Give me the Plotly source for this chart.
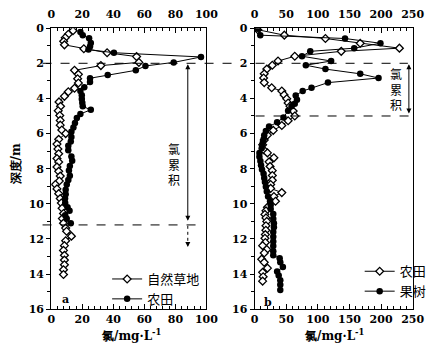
import plotly.graph_objects as go

# ---- panel a: natural grassland vs farmland ----
grass_depth = [0.15, 0.35, 0.55, 0.75, 0.95, 1.17, 1.4, 1.62, 1.95, 2.13, 2.4, 2.63, 2.88, 3.12,
               3.42, 3.62, 3.88, 4.2, 4.45, 4.7, 4.97, 5.25, 5.52, 5.8, 6.0, 6.33, 6.6, 6.88,
               7.15, 7.42, 7.62, 7.9, 8.15, 8.42, 8.7, 8.9, 9.15, 9.42, 9.7, 9.95, 10.25, 10.55,
               10.84, 11.1, 11.38, 11.56, 11.84, 12.1, 12.38, 12.65, 12.93, 13.2, 13.47, 13.75, 14.02]
grass_cl = [14, 11, 9, 8, 8.5, 21, 36, 55, 56.5, 32, 15, 17.5, 17, 17.5,
            15, 11, 8.5, 5, 6, 4.5, 5.5, 5.8, 5.8, 6.8, 9.3, 4.8, 3.7, 4.3,
            4.8, 3.7, 4.8, 3.7, 4.8, 5.8, 5.2, 2.7, 3.7, 4.8, 5.8, 6.5, 7, 7.9,
            7.2, 7.9, 9.3, 9.9, 13, 9.3, 8.5, 7.9, 8.5, 8.5, 8.5, 7.9, 7.9]

farm_a_depth = [0.22, 0.4, 0.58, 0.85, 1.04, 1.22, 1.4, 1.64, 1.95, 2.15, 2.4, 2.67, 2.85, 3.07,
                3.36, 3.58, 3.82, 4.04, 4.25, 4.45, 4.65, 4.88, 5.12, 5.4, 5.65, 5.9, 6.2, 6.45,
                6.7, 6.95, 7.3, 7.55, 7.85, 8.1, 8.4, 8.65, 8.9, 9.2, 9.45, 9.7, 9.95, 10.2,
                10.4, 10.65, 10.85, 11.1]
farm_a_cl = [18.8, 20.3, 24.4, 25.5, 25, 24, 40.4, 96.5, 78.9, 60.7, 54.5, 36.4, 25, 25,
             21.3, 18.8, 19.7, 19.7, 20, 20.3, 25.5, 18.8, 16.5, 15.3, 14.3, 13, 13, 12.6,
             11, 11, 13, 13.5, 12, 11.4, 12, 11, 10, 9.3, 9.3, 8.9, 9, 10.5,
             11.8, 9, 10, 12.6]

# ---- panel b: farmland vs orchard ----
farm_b_depth = [0.09, 0.4, 0.59, 0.86, 1.14, 1.32, 1.6, 1.87, 2.11, 2.33, 2.6, 2.84, 3.1, 3.39,
                3.58, 3.8, 4.02, 4.26, 4.44, 4.72, 5.0, 5.27, 5.54, 5.82, 6.09, 6.37, 6.64, 6.92,
                7.1, 7.38, 7.61, 7.87, 8.11, 8.39, 8.66, 8.9, 9.12, 9.36, 9.58, 9.85, 10.2, 10.4,
                10.6, 10.8, 11.0, 11.25, 11.5, 11.75, 11.96, 12.2, 12.38, 12.6, 12.8, 13.15, 13.33,
                13.66, 13.9, 14.15, 14.4]
farm_b_cl = [5, 47, 112, 167, 229, 137, 63.5, 37, 28, 19.3, 15.2, 14.2, 15.2, 27,
             43, 46.7, 50.8, 53, 56, 61, 63.5, 53, 43, 29.5, 20.3, 15.2, 12.7, 14.2,
             20.3, 30.5, 22.9, 24.4, 28, 28, 28, 25.4, 25.4, 43, 30.5, 33, 20.3, 18,
             16.3, 18, 19.3, 18, 17.8, 17, 16.3, 17, 12.7, 19.3, 15.2, 11.2, 15.2,
             20.3, 12.7, 13.5, 12.7]

orchard_depth = [0.04, 0.4, 0.59, 0.86, 1.14, 1.32, 1.6, 1.87, 2.11, 2.33, 2.6, 2.84, 3.1, 3.39,
                 3.58, 3.83, 4.07, 4.3, 4.45, 4.7, 5.08, 5.36, 5.6, 5.85, 6.09, 6.33, 6.55, 6.83,
                 7.1, 7.32, 7.56, 7.8, 8.05, 8.29, 8.53, 8.75, 9.03, 9.3, 9.58, 9.85, 10.07, 10.3,
                 10.58, 10.85, 11.1, 11.33, 11.6, 11.87, 12.14, 12.4, 12.7, 12.93, 13.1, 13.33, 13.6,
                 13.85, 14.08, 14.35, 14.6, 14.9]
orchard_cl = [5, 9, 143, 199, 157.5, 88, 75, 121, 81, 112, 167, 196, 116, 90,
              76, 65, 67, 63.5, 58.4, 53, 45.7, 35.6, 22.9, 17.8, 15.2, 14.2, 12.7, 11.2,
              7.6, 7.6, 9.1, 10.2, 11.7, 14.2, 15.2, 16.3, 17.8, 19.3, 21.3, 24.4, 25.4, 25.4,
              29.5, 29.5, 30.5, 30.5, 29.5, 29.5, 29.5, 29.5, 29.5, 29.5, 39.6, 40.6, 44.7,
              35.6, 38.1, 40.6, 40.6, 40.6]

W, H = 443, 349


def px(x):
    return x / W


def py(y):
    return 1 - y / H


SERIF = "DejaVu Serif"
CJK = "Noto Sans CJK SC"
tickfont = dict(family=SERIF, size=11, color="black", weight="bold")

diamond = dict(symbol="diamond", size=6, color="white", line=dict(color="black", width=1.3))
circle = dict(symbol="circle", size=6.5, color="black")
ln = dict(color="black", width=1)

fig = go.Figure()
fig.add_trace(go.Scatter(x=grass_cl, y=grass_depth, mode="lines+markers", name="自然草地",
                         marker=diamond, line=ln, xaxis="x", yaxis="y", legend="legend"))
fig.add_trace(go.Scatter(x=farm_a_cl, y=farm_a_depth, mode="lines+markers", name="农田",
                         marker=circle, line=ln, xaxis="x", yaxis="y", legend="legend"))
fig.add_trace(go.Scatter(x=farm_b_cl, y=farm_b_depth, mode="lines+markers", name="农田",
                         marker=diamond, line=ln, xaxis="x2", yaxis="y2", legend="legend2"))
fig.add_trace(go.Scatter(x=orchard_cl, y=orchard_depth, mode="lines+markers", name="果树",
                         marker=circle, line=ln, xaxis="x2", yaxis="y2", legend="legend2"))
# carrier traces so the mirrored top axes (with their own tick labels) are rendered
fig.add_trace(go.Scatter(x=farm_a_cl, y=farm_a_depth, mode="none", showlegend=False,
                         hoverinfo="skip", xaxis="x3", yaxis="y"))
fig.add_trace(go.Scatter(x=orchard_cl, y=orchard_depth, mode="none", showlegend=False,
                         hoverinfo="skip", xaxis="x4", yaxis="y2"))

ydom = [py(315), py(23)]


def xax(dom, rng, dtick, minor, anchor, side="bottom", overlay=None):
    d = dict(domain=dom, range=rng, anchor=anchor, side=side, dtick=dtick,
             ticks="inside", ticklen=5, tickcolor="black",
             minor=dict(dtick=minor, ticks="inside", ticklen=3, tickcolor="black", showgrid=False),
             showline=True, linecolor="black", linewidth=1, mirror=True,
             showgrid=False, zeroline=False, tickfont=tickfont)
    if overlay:
        d["overlaying"] = overlay
        d["ticklabelstandoff"] = 5
    return d


def yax(anchor):
    return dict(domain=ydom, range=[16, 0], anchor=anchor, dtick=2,
                ticks="outside", ticklen=4, tickcolor="black",
                minor=dict(dtick=1, ticks="outside", ticklen=3, tickcolor="black", showgrid=False),
                showline=True, linecolor="black", linewidth=1, mirror=True,
                showgrid=False, zeroline=False, tickfont=tickfont)


domA = [px(49), px(210)]
domB = [px(260), px(424)]

fig.update_layout(
    width=W, height=H,
    margin=dict(l=0, r=0, t=0, b=0),
    paper_bgcolor="white", plot_bgcolor="white",
    xaxis=xax(domA, [0, 100], 20, 4, "y"),
    xaxis3=xax(domA, [0, 100], 20, 4, "y", side="top", overlay="x"),
    xaxis2=xax(domB, [0, 250], 50, 10, "y2"),
    xaxis4=xax(domB, [0, 250], 50, 10, "y2", side="top", overlay="x2"),
    yaxis=yax("x"),
    yaxis2=yax("x2"),
    legend=dict(x=px(107), y=py(268), xanchor="left", yanchor="top",
                bgcolor="rgba(0,0,0,0)", font=dict(family=CJK, size=13, color="black"),
                itemwidth=30, tracegroupgap=0),
    legend2=dict(x=px(369), y=py(260), xanchor="left", yanchor="top",
                 bgcolor="rgba(0,0,0,0)", font=dict(family=CJK, size=13, color="black"),
                 itemwidth=30, tracegroupgap=0),
    showlegend=True,
)

# dashed boundaries of the chloride accumulation zones
dash = dict(color="black", width=1, dash="dash")
shapes = [
    dict(type="line", xref="paper", yref="y", x0=px(40), x1=px(240), y0=2, y1=2, line=dash),
    dict(type="line", xref="paper", yref="y2", x0=px(261), x1=px(419), y0=2, y1=2, line=dash),
    dict(type="line", xref="paper", yref="y", x0=px(40), x1=px(206), y0=11.2, y1=11.2, line=dash),
    dict(type="line", xref="paper", yref="y2", x0=px(261), x1=px(421), y0=5, y1=5, line=dash),
    dict(type="line", xref="x", yref="y", x0=88, x1=88, y0=11.25, y1=12.3,
         line=dict(color="black", width=1, dash="dot")),
]
fig.update_layout(shapes=shapes)

ann = []
# accumulation range arrows
ann.append(dict(xref="x", yref="y", axref="x", ayref="y", x=88, y=2.05, ax=88, ay=11.05,
                showarrow=True, arrowside="end+start", arrowhead=2, arrowsize=1,
                arrowwidth=1, arrowcolor="black", text=""))
ann.append(dict(xref="x", yref="y", axref="x", ayref="y", x=88, y=12.45, ax=88, ay=12.1,
                showarrow=True, arrowhead=2, arrowsize=1, arrowwidth=1,
                arrowcolor="black", text=""))
ann.append(dict(xref="x2", yref="y2", axref="x2", ayref="y2", x=244, y=2.05, ax=244, ay=4.95,
                showarrow=True, arrowside="end+start", arrowhead=2, arrowsize=1,
                arrowwidth=1, arrowcolor="black", text=""))
# vertical labels
ann.append(dict(xref="x", yref="y", x=79, y=7.76, text="氯<br>累<br>积", showarrow=False,
                font=dict(family=CJK, size=12, color="black")))
ann.append(dict(xref="x2", yref="y2", x=224, y=3.48, text="氯<br>累<br>积", showarrow=False,
                font=dict(family=CJK, size=12, color="black")))
# panel letters
ann.append(dict(xref="x", yref="y", x=9.3, y=15.45, text="a", showarrow=False,
                font=dict(family=SERIF, size=11, color="black", weight="bold")))
ann.append(dict(xref="x2", yref="y2", x=21, y=15.6, text="b", showarrow=False,
                font=dict(family=SERIF, size=11, color="black", weight="bold")))
# axis titles
xt = "氯/mg·L<sup>-1</sup>"
for xc in (132, 342):
    ann.append(dict(xref="paper", yref="paper", x=px(xc), y=py(342), xanchor="center",
                    yanchor="middle", text=xt, showarrow=False,
                    font=dict(family=SERIF, size=12, color="black", weight="bold")))
ann.append(dict(xref="paper", yref="paper", x=px(12), y=py(165), xanchor="center",
                yanchor="middle", text="深度/m", showarrow=False, textangle=-90,
                font=dict(family=SERIF, size=12, color="black", weight="bold")))
fig.update_layout(annotations=ann)

fig.write_html("out.html")
